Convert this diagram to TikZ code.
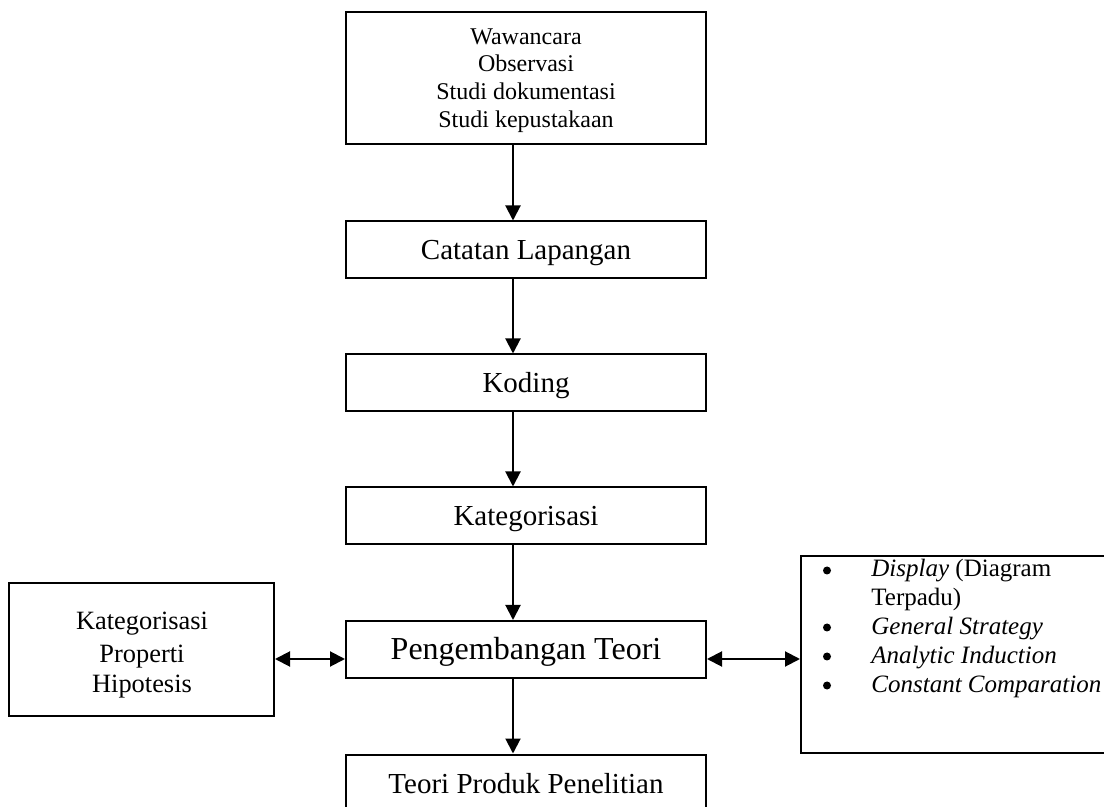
\documentclass[tikz,border=0pt]{standalone}
\usepackage{fontspec}
\setmainfont{Liberation Serif}
\usetikzlibrary{arrows.meta}
\begin{document}
\begin{tikzpicture}[x=0.5pt,y=-0.5pt,
  box/.style={draw, line width=1pt, inner sep=0pt},
  stagebox/.style={box, minimum width=180pt, minimum height=28.5pt, text height=10pt, text depth=0pt, font=\fontsize{14.5}{17}\selectfont},
  arr/.style={line width=1pt, -{Triangle[length=7.5pt,width=7.5pt]}},
  darr/.style={line width=1pt, {Triangle[length=7.5pt,width=7.5pt]}-{Triangle[length=7.5pt,width=7.5pt]}},
  topline/.style={inner sep=0pt, anchor=base, font=\fontsize{12}{14}\selectfont},
  leftline/.style={inner sep=0pt, anchor=base, font=\fontsize{13.2}{15.5}\selectfont},
  rightline/.style={inner sep=0pt, anchor=base west, font=\fontsize{12.5}{14.5}\selectfont},
  bullet/.style={circle, fill=black, inner sep=0pt, minimum size=4pt}
]
\useasboundingbox (0,0) rectangle (1104,807);

% central column
\node[box, minimum width=180pt, minimum height=66pt] (top) at (526,78) {};
\node[topline] (w1) at (526,45) {Wawancara};
\node[topline] (w2) at (526,72) {Observasi};
\node[topline] (w3) at (526,100) {Studi dokumentasi};
\node[topline] (w4) at (526,128) {Studi kepustakaan};

\node[stagebox] (cat) at (526,250) {Catatan Lapangan};
\node[stagebox] (kod) at (526,383) {Koding};
\node[stagebox] (kat) at (526,516) {Kategorisasi};
\node[stagebox, minimum height=28.5pt, text height=10.5pt, font=\fontsize{16}{19}\selectfont] (peng) at (526,649.5) {Pengembangan Teori};
\node[stagebox] (teori) at (526,783) {Teori Produk Penelitian};

% left box
\node[box, minimum width=132.5pt, minimum height=66.5pt] (lbox) at (141.5,649.5) {};
\node[leftline] (l1) at (142,630) {Kategorisasi};
\node[leftline] (l2) at (142,662) {Properti};
\node[leftline] (l3) at (142,692) {Hipotesis};

% right box
\node[box, minimum width=154.5pt, minimum height=98.5pt] (rbox) at (955.5,654.5) {};
\node[bullet] (b1) at (827,570.5) {};
\node[rightline] (r1) at (871,577) {\textit{Display} (Diagram};
\node[rightline] (r2) at (871,606) {Terpadu)};
\node[bullet] (b2) at (827,627.5) {};
\node[rightline] (r3) at (871,634) {\textit{General Strategy}};
\node[bullet] (b3) at (827,656.5) {};
\node[rightline] (r4) at (871,663) {\textit{Analytic Induction}};
\node[bullet] (b4) at (827,685.5) {};
\node[rightline] (r5) at (871,692) {\textit{Constant Comparation}};

% connectors
\coordinate (ax) at (513,0);
\coordinate (hy) at (0,659);
\draw[arr] (top.south -| ax) -- (cat.north -| ax);
\draw[arr] (cat.south -| ax) -- (kod.north -| ax);
\draw[arr] (kod.south -| ax) -- (kat.north -| ax);
\draw[arr] (kat.south -| ax) -- (peng.north -| ax);
\draw[arr] (peng.south -| ax) -- (teori.north -| ax);
\draw[darr] (lbox.east |- hy) -- (peng.west |- hy);
\draw[darr] (peng.east |- hy) -- (rbox.west |- hy);
\end{tikzpicture}
\end{document}
